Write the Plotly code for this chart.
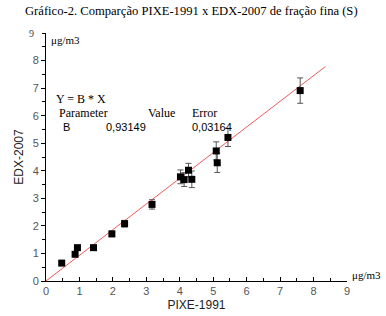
import plotly.graph_objects as go

pixe = [0.47, 0.87, 0.94, 1.42, 1.97, 2.35, 3.17, 4.02, 4.13, 4.26, 4.36, 5.09, 5.12, 5.44, 7.60]
edx = [0.65, 0.97, 1.21, 1.21, 1.71, 2.08, 2.78, 3.78, 3.68, 4.02, 3.69, 4.72, 4.29, 5.21, 6.91]
err = [0.05, 0.06, 0.07, 0.07, 0.10, 0.12, 0.17, 0.25, 0.25, 0.25, 0.30, 0.33, 0.35, 0.33, 0.46]
slope = 0.93149
fit_x = [0, 8.35]
fit_y = [slope * v for v in fit_x]
ticks = list(range(0, 10))

fig = go.Figure()
fig.add_trace(go.Scatter(x=fit_x, y=fit_y, mode="lines",
                         line=dict(color="rgb(240,90,90)", width=1), showlegend=False,
                         hoverinfo="skip"))
fig.add_trace(go.Scatter(x=pixe, y=edx, mode="markers",
                         marker=dict(symbol="square", size=7, color="black"),
                         error_y=dict(type="data", array=err, color="#555555", thickness=1, width=3),
                         showlegend=False))

serif = "Liberation Serif"
sans = "Liberation Sans"
fig.update_layout(
    width=386, height=316,
    margin=dict(l=46, r=39, t=33, b=35),
    paper_bgcolor="white", plot_bgcolor="white",
    xaxis=dict(range=[0, 9], tickvals=ticks, showline=True, linecolor="black", linewidth=1,
               ticks="inside", ticklen=4, tickcolor="black", showgrid=False, zeroline=False,
               automargin=False,
               tickfont=dict(family=sans, size=11, color="#555555"),
               minor=dict(ticks="inside", ticklen=3, dtick=0.5, tickcolor="black"),
               title=dict(text="PIXE-1991", font=dict(family=sans, size=12, color="#222222"), standoff=4)),
    yaxis=dict(range=[0, 9], tickvals=ticks[:-1], showline=True, linecolor="black", linewidth=1,
               ticks="outside", ticklen=4, tickcolor="black", showgrid=False, zeroline=False,
               automargin=False,
               tickfont=dict(family=sans, size=11, color="#555555"),
               minor=dict(ticks="outside", ticklen=3, dtick=0.5, tickcolor="black"),
               title=dict(text="EDX-2007", font=dict(family=sans, size=12, color="#222222"), standoff=6)),
    annotations=[
        dict(text="Gráfico-2. Comparção PIXE-1991 x EDX-2007 de fração fina (S)", xref="paper", yref="paper",
             x=-0.075, y=1.0, yshift=22, xanchor="left", yanchor="middle", showarrow=False,
             font=dict(family=serif, size=12.6, color="black")),
        dict(text="9", xref="paper", yref="y", x=0, y=9, xshift=-15, xanchor="center", yanchor="middle",
             showarrow=False, font=dict(family=serif, size=10, color="#444444")),
        dict(text="μg/m3", xref="paper", yref="y", x=0, y=8.75, xshift=3, xanchor="left", yanchor="middle",
             showarrow=False, font=dict(family=serif, size=11, color="black")),
        dict(text="μg/m3", xref="x", yref="y", x=9, y=0.2, xshift=3, xanchor="left", yanchor="middle",
             showarrow=False, font=dict(family=serif, size=11, color="black")),
        dict(text="Y = B * X", xref="x", yref="y", x=0.25, y=6.6, xanchor="left", yanchor="middle",
             showarrow=False, font=dict(family=serif, size=12, color="black")),
        dict(text="Parameter", xref="x", yref="y", x=0.33, y=6.1, xanchor="left", yanchor="middle",
             showarrow=False, font=dict(family=serif, size=12, color="black")),
        dict(text="Value", xref="x", yref="y", x=3.0, y=6.1, xanchor="left", yanchor="middle",
             showarrow=False, font=dict(family=serif, size=12, color="black")),
        dict(text="Error", xref="x", yref="y", x=4.32, y=6.1, xanchor="left", yanchor="middle",
             showarrow=False, font=dict(family=serif, size=12, color="black")),
        dict(text="B", xref="x", yref="y", x=0.45, y=5.6, xanchor="left", yanchor="middle",
             showarrow=False, font=dict(family=sans, size=11, color="black")),
        dict(text="0,93149", xref="x", yref="y", x=1.73, y=5.6, xanchor="left", yanchor="middle",
             showarrow=False, font=dict(family=sans, size=11, color="black")),
        dict(text="0,03164", xref="x", yref="y", x=4.3, y=5.6, xanchor="left", yanchor="middle",
             showarrow=False, font=dict(family=sans, size=11, color="black")),
    ],
)
fig.write_html("out.html", config={"displayModeBar": False},
               post_script="document.body.style.margin='0';")
